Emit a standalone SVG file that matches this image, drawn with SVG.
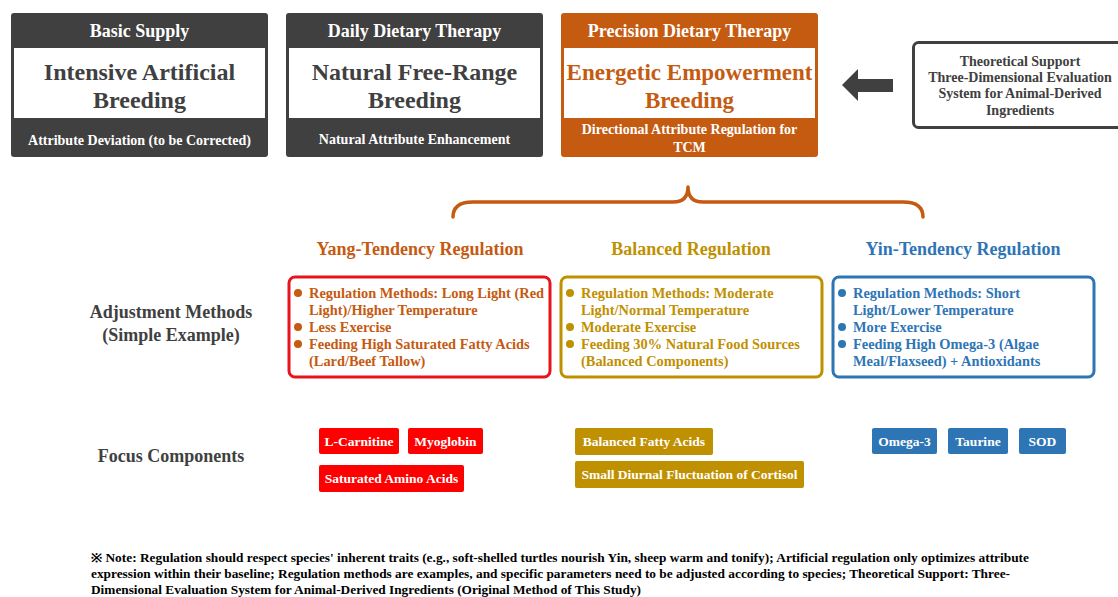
<svg xmlns="http://www.w3.org/2000/svg" width="1118" height="597" viewBox="0 0 1118 597">
<style>
text{font-family:"Liberation Serif","Times New Roman",serif;font-weight:bold}
.c{text-anchor:middle}
.hd{font-size:18px;fill:#fff}
.big{font-size:24px;fill:#404040}
.sub{font-size:14px;fill:#fff}
.th{font-size:14px;fill:#404040}
.colh{font-size:18px}
.bl{font-size:14.4px}
.lab{font-size:18px;fill:#404040}
.tag{font-size:13.5px;fill:#fff}
.note{font-size:12px;fill:#000}
.dark{fill:#404040}
.or{fill:#c55a11}
.gd{fill:#bf9000}
.bu{fill:#2e75b6}
.rd{fill:#ff0000}
.inner{fill:#fff}
.rbox{fill:#fff;stroke-width:3}
</style>
<rect width="1118" height="597" fill="#fff"/>

<g id="node-basic">
<rect x="11" y="13" width="257" height="144" rx="3" class="dark"/>
<rect x="14" y="48" width="251" height="70" class="inner"/>
<text x="139.5" y="37" class="c hd">Basic Supply</text>
<text x="139.5" y="80" class="c big">Intensive Artificial</text>
<text x="139.5" y="108" class="c big">Breeding</text>
<text x="139.5" y="145" class="c sub">Attribute Deviation (to be Corrected)</text>
</g>

<g id="node-daily">
<rect x="286" y="13" width="257" height="144" rx="3" class="dark"/>
<rect x="289" y="48" width="251" height="70" class="inner"/>
<text x="414.5" y="37" class="c hd">Daily Dietary Therapy</text>
<text x="414.5" y="80" class="c big">Natural Free-Range</text>
<text x="414.5" y="108" class="c big">Breeding</text>
<text x="414.5" y="144" class="c sub">Natural Attribute Enhancement</text>
</g>

<g id="node-precision">
<rect x="561" y="13" width="257" height="144" rx="3" class="or"/>
<rect x="564" y="48" width="251" height="70" class="inner"/>
<text x="689.5" y="37" class="c hd">Precision Dietary Therapy</text>
<text x="689.5" y="80" class="c big or" style="font-size:23px">Energetic Empowerment</text>
<text x="689.5" y="108" class="c big or" style="font-size:23px">Breeding</text>
<text x="689.5" y="134" class="c sub">Directional Attribute Regulation for</text>
<text x="689.5" y="152" class="c sub">TCM</text>
</g>

<g id="node-theory">
<rect x="913.5" y="42.5" width="215" height="85" rx="5" fill="#fff" stroke="#404040" stroke-width="3"/>
<text x="1020" y="66" class="c th">Theoretical Support</text>
<text x="1020" y="82" class="c th">Three-Dimensional Evaluation</text>
<text x="1020" y="98" class="c th">System for Animal-Derived</text>
<text x="1020" y="115" class="c th">Ingredients</text>
</g>

<g id="connectors">
<polygon points="842,85 858,69 858,79 893,79 893,92 858,92 858,101" fill="#404040"/>
<path d="M453,217 Q453,202 473,202 L673,202 Q688,202 688,187 Q688,202 703,202 L903,202 Q923,202 923,217" fill="none" stroke="#c55a11" stroke-width="3.5" stroke-linecap="round" stroke-linejoin="round"/>
</g>

<g id="row-labels">
<text x="171" y="318" class="c lab">Adjustment Methods</text>
<text x="171" y="341" class="c lab">(Simple Example)</text>
<text x="171" y="462" class="c lab">Focus Components</text>
</g>

<g id="node-yang">
<text x="420" y="255" class="c colh or">Yang-Tendency Regulation</text>
<rect x="289" y="277" width="261" height="100" rx="6" class="rbox" stroke="#e8141c"/>
<g class="or">
<circle cx="298" cy="293" r="4"/><circle cx="298" cy="327" r="4"/><circle cx="298" cy="344" r="4"/>
</g>
<text class="bl or"><tspan x="309" y="298">Regulation Methods: Long Light (Red</tspan><tspan x="309" y="315">Light)/Higher Temperature</tspan><tspan x="309" y="332">Less Exercise</tspan><tspan x="309" y="349">Feeding High Saturated Fatty Acids</tspan><tspan x="309" y="366">(Lard/Beef Tallow)</tspan></text>
</g>

<g id="node-balanced">
<text x="691" y="255" class="c colh gd">Balanced Regulation</text>
<rect x="561" y="277" width="261" height="100" rx="6" class="rbox" stroke="#bf9000"/>
<g class="gd">
<circle cx="570" cy="293" r="4"/><circle cx="570" cy="327" r="4"/><circle cx="570" cy="344" r="4"/>
</g>
<text class="bl gd"><tspan x="581" y="298">Regulation Methods: Moderate</tspan><tspan x="581" y="315">Light/Normal Temperature</tspan><tspan x="581" y="332">Moderate Exercise</tspan><tspan x="581" y="349">Feeding 30% Natural Food Sources</tspan><tspan x="581" y="366">(Balanced Components)</tspan></text>
</g>

<g id="node-yin">
<text x="963" y="255" class="c colh bu">Yin-Tendency Regulation</text>
<rect x="833" y="277" width="261" height="100" rx="6" class="rbox" stroke="#2e75b6"/>
<g class="bu">
<circle cx="842" cy="293" r="4"/><circle cx="842" cy="327" r="4"/><circle cx="842" cy="344" r="4"/>
</g>
<text class="bl bu"><tspan x="853" y="298">Regulation Methods: Short</tspan><tspan x="853" y="315">Light/Lower Temperature</tspan><tspan x="853" y="332">More Exercise</tspan><tspan x="853" y="349">Feeding High Omega-3 (Algae</tspan><tspan x="853" y="366">Meal/Flaxseed) + Antioxidants</tspan></text>
</g>

<g id="tags-yang">
<rect x="319" y="428" width="80" height="26" rx="2" class="rd"/>
<text x="359" y="446" class="c tag">L-Carnitine</text>
<rect x="408" y="428" width="75" height="26" rx="2" class="rd"/>
<text x="445.5" y="446" class="c tag">Myoglobin</text>
<rect x="319" y="465" width="145" height="27" rx="2" class="rd"/>
<text x="391.5" y="483" class="c tag">Saturated Amino Acids</text>
</g>

<g id="tags-balanced">
<rect x="575" y="428" width="138" height="27" rx="2" class="gd"/>
<text x="644" y="446" class="c tag">Balanced Fatty Acids</text>
<rect x="575" y="461" width="229" height="27" rx="2" class="gd"/>
<text x="689.5" y="479" class="c tag">Small Diurnal Fluctuation of Cortisol</text>
</g>

<g id="tags-yin">
<rect x="872" y="428" width="65" height="26" rx="2" class="bu"/>
<text x="904.5" y="446" class="c tag">Omega-3</text>
<rect x="948" y="428" width="60" height="26" rx="2" class="bu"/>
<text x="978" y="446" class="c tag">Taurine</text>
<rect x="1019" y="428" width="47" height="26" rx="2" class="bu"/>
<text x="1042.5" y="446" class="c tag">SOD</text>
</g>

<g id="note">
<text x="91" y="562" class="note" textLength="938" lengthAdjust="spacingAndGlyphs">※ Note: Regulation should respect species' inherent traits (e.g., soft-shelled turtles nourish Yin, sheep warm and tonify); Artificial regulation only optimizes attribute</text>
<text x="91" y="578" class="note" textLength="919" lengthAdjust="spacingAndGlyphs">expression within their baseline; Regulation methods are examples, and specific parameters need to be adjusted according to species; Theoretical Support: Three-</text>
<text x="91" y="594" class="note" textLength="550" lengthAdjust="spacingAndGlyphs">Dimensional Evaluation System for Animal-Derived Ingredients (Original Method of This Study)</text>
</g>
</svg>
